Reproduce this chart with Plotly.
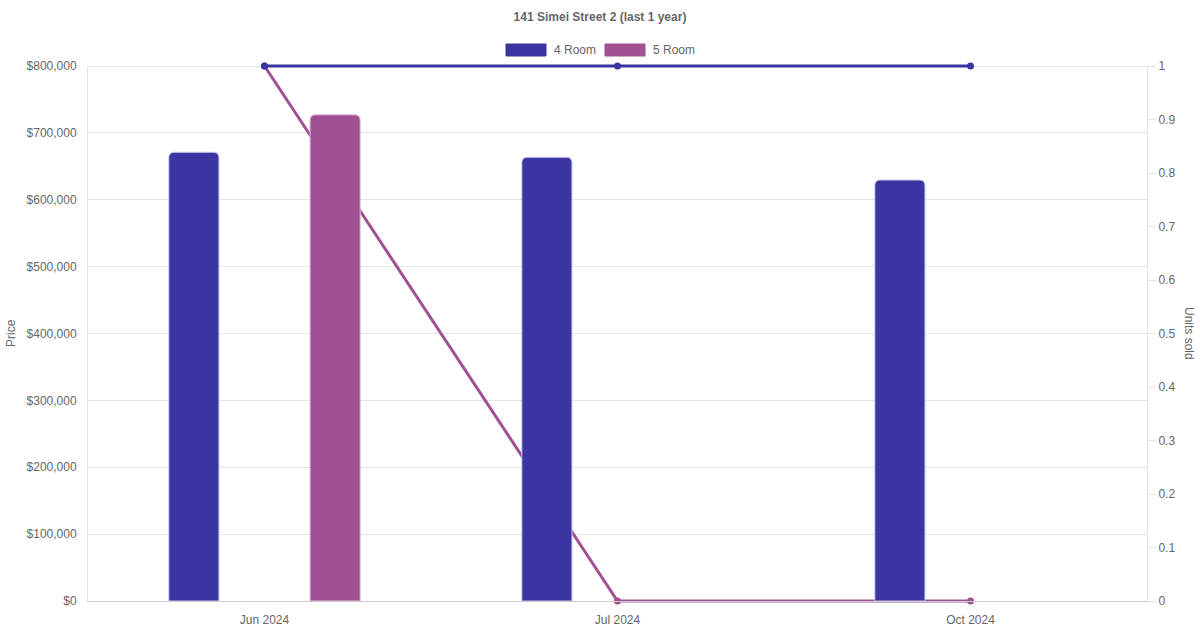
import plotly.graph_objects as go

# --- Data ---
MONTHS = ['Jun 2024', 'Jul 2024', 'Oct 2024']
PRICE_4R = [671000, 663500, 629500]
PRICE_5R = [727000, None, None]
UNITS_4R = [1, 1, 1]
UNITS_5R = [1, 0, 0]

C4 = '#3a35a0'
C5 = '#a05193'
GRID = '#e4e4e4'
TXT = '#666666'
FONT = 'Liberation Sans, Arial, sans-serif'

W, H = 1200, 630
L, R, T, B = 88, 1147, 66, 601   # plot box in px
PAD = 5                          # extra room so lines at 0/1 are not clipped
PH = (B - T) + 2 * PAD


def px_x(x):
    return (x - L) / (R - L)


def px_y(y):
    return (B + PAD - y) / PH


ext = PAD / (B - T)
inner = [PAD / PH, 1 - PAD / PH]

fig = go.Figure()

# lines in subplot xy (drawn first -> under the bars), with a slightly taller box
# 5 Room first so the 4 Room line/markers sit on top of it
fig.add_trace(go.Scatter(
    x=MONTHS, y=UNITS_5R, xaxis='x', yaxis='y', mode='lines+markers', name='5 Room',
    line=dict(color=C5, width=3), marker=dict(color=C5, size=7),
    cliponaxis=False, showlegend=False
))
fig.add_trace(go.Scatter(
    x=MONTHS, y=UNITS_4R, xaxis='x', yaxis='y', mode='lines+markers', name='4 Room',
    line=dict(color=C4, width=3), marker=dict(color=C4, size=7),
    cliponaxis=False, showlegend=False
))
# bars in subplot x2y2
fig.add_trace(go.Bar(
    x=MONTHS, y=PRICE_4R, xaxis='x2', yaxis='y2', name='4 Room',
    marker=dict(color=C4, cornerradius=5, line=dict(color='#c9c7ee', width=1)),
    showlegend=False
))
fig.add_trace(go.Bar(
    x=MONTHS, y=PRICE_5R, xaxis='x2', yaxis='y2', name='5 Room',
    marker=dict(color=C5, cornerradius=5, line=dict(color='#e3bddb', width=1)),
    showlegend=False
))
# empty trace so the right-hand units axis gets drawn
fig.add_trace(go.Scatter(x=[], y=[], xaxis='x2', yaxis='y3', showlegend=False,
                         hoverinfo='skip'))

# hand-made legend boxes like the chart.js one
shapes = []
annotations = []
for x0, col, lab in [(506, C4, '4 Room'), (605, C5, '5 Room')]:
    shapes.append(dict(type='rect', xref='paper', yref='paper',
                       x0=px_x(x0), x1=px_x(x0 + 40), y0=px_y(56), y1=px_y(44),
                       fillcolor=col, line=dict(color=col, width=1)))
    annotations.append(dict(text=lab, xref='paper', yref='paper',
                            x=px_x(x0 + 46), y=px_y(50), xanchor='left', yanchor='middle',
                            showarrow=False, font=dict(size=12, color=TXT, family=FONT)))

annotations.append(dict(text='Price', xref='paper', yref='paper', x=px_x(11), y=px_y(333),
                        textangle=-90, showarrow=False, xanchor='center', yanchor='middle',
                        font=dict(size=12, color=TXT, family=FONT)))
annotations.append(dict(text='Units sold', xref='paper', yref='paper', x=px_x(1189), y=px_y(333),
                        textangle=90, showarrow=False, xanchor='center', yanchor='middle',
                        font=dict(size=12, color=TXT, family=FONT)))

fig.update_layout(
    width=W, height=H,
    margin=dict(l=L, r=W - R, t=T - PAD, b=H - B - PAD),
    paper_bgcolor='white', plot_bgcolor='rgba(0,0,0,0)',
    barmode='group', bargap=0.2, bargroupgap=0.645,
    title=dict(text='<b>141 Simei Street 2 (last 1 year)</b>', x=0.5, xanchor='center',
               y=1 - 17 / H, yanchor='middle', font=dict(size=12, color=TXT, family=FONT)),
    font=dict(family=FONT, size=12, color=TXT),
    # lines subplot: hidden axes, carries the price grid (1 grid step = 100k = 0.125 units)
    xaxis=dict(type='category', range=[-0.5, 2.5], domain=[0, 1], visible=False),
    yaxis=dict(range=[-ext, 1 + ext], domain=[0, 1], tick0=0, dtick=0.125,
               showgrid=True, gridcolor=GRID, showticklabels=False, ticks='',
               zeroline=False, showline=False),
    # bars subplot
    xaxis2=dict(type='category', range=[-0.5, 2.5], domain=[0, 1], anchor='y2',
                showgrid=False, showline=True, linecolor='#cccccc', linewidth=1, ticks='',
                ticklabelstandoff=8, automargin=False,
                tickfont=dict(size=12, color=TXT), zeroline=False),
    yaxis2=dict(range=[0, 800000], dtick=100000, side='left', domain=inner, anchor='x2',
                tickprefix='$', tickformat=',', showgrid=False,
                zeroline=False, showline=True, linecolor=GRID, ticks='',
                ticklabelstandoff=8, automargin=False,
                tickfont=dict(size=12, color=TXT)),
    # units tick axis on the right
    yaxis3=dict(range=[0, 1], dtick=0.1, side='right', overlaying='y2', anchor='x2',
                showgrid=False, zeroline=False, showline=True, linecolor=GRID,
                ticks='outside', ticklen=8, tickcolor=GRID, automargin=False,
                tickfont=dict(size=12, color=TXT)),
    shapes=shapes,
    annotations=annotations,
)

fig.write_html('out.html', config={'displayModeBar': False},
               post_script="document.body.style.margin='0px';")
